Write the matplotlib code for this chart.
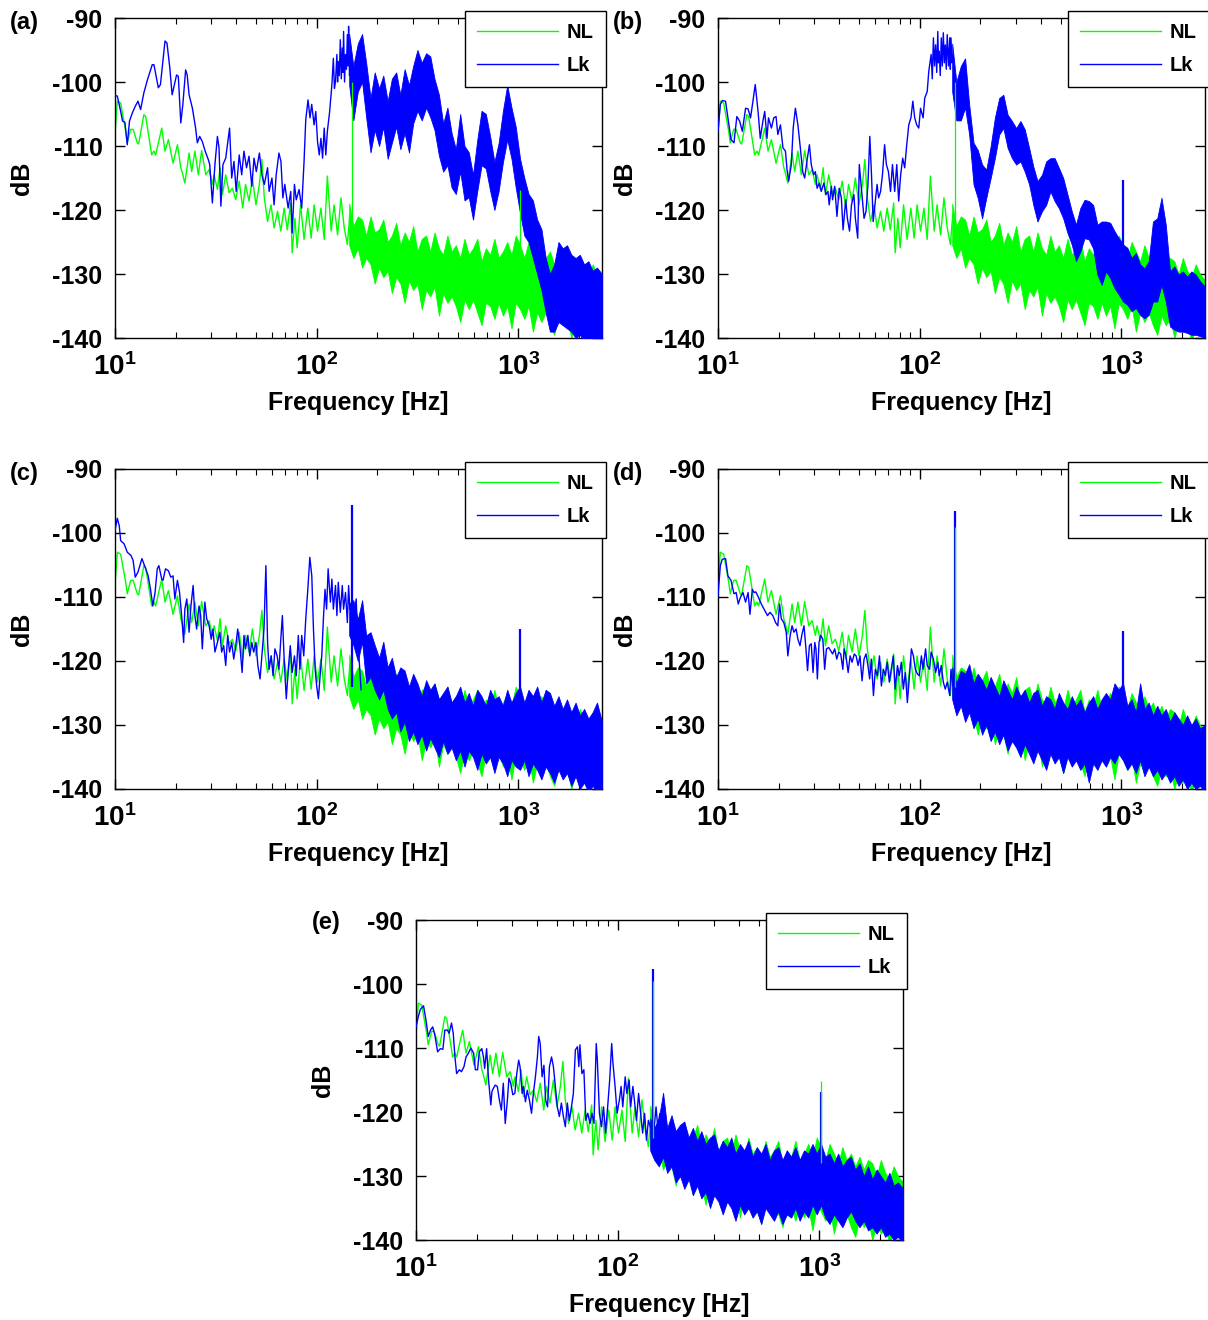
import numpy as np
import matplotlib
matplotlib.use("Agg")
import matplotlib.pyplot as plt
from matplotlib.ticker import NullFormatter, LogLocator

plt.rcParams["font.family"] = ["Liberation Sans", "DejaVu Sans"]
plt.rcParams["font.weight"] = "bold"
plt.rcParams["mathtext.fontset"] = "custom"
plt.rcParams["mathtext.rm"] = "Liberation Sans:bold"
plt.rcParams["mathtext.it"] = "Liberation Sans:bold"
plt.rcParams["mathtext.bf"] = "Liberation Sans:bold"
plt.rcParams["axes.unicode_minus"] = False

GREEN = "#00ff00"
BLUE = "#0000ff"

# ---- NL (no leak) spectrum, same baseline in every panel ----
nl_f = [10.0, 10.27, 10.67, 11.3, 11.5, 11.96, 12.3, 12.9, 13.1, 13.9, 14.2, 15.2, 15.6, 15.9,
        17.05, 17.7, 18.4, 19.4, 20.4, 21.2, 21.5, 22.2, 23.3, 24.0, 24.9, 25.9, 26.9, 28.2,
        29.3, 30.4, 31.0, 32.2, 33.2, 34.1, 35.4, 36.8, 38.2, 39.7, 41.3, 43.0, 44.4, 46.2,
        48.0, 50.0, 52.0, 53.5, 55.0, 57.1, 59.4, 61.5, 64.0, 66.4, 69.0, 71.5, 74.3, 75.6,
        78.0, 80.0, 83.2, 86.6, 90.4, 93.9, 97.1, 101, 105, 109, 113, 118, 122, 127, 132,
        137, 142, 146]
nl_db = [-108.0, -103.0, -103.3, -107.7, -109.5, -107.4, -107.4, -109.5, -109.7, -105.1, -105.4,
         -111.4, -110.8, -111.4, -107.2, -110.8, -109.0, -112.7, -109.8, -113.4, -114.0, -115.8,
         -111.1, -114.0, -110.8, -114.5, -110.7, -114.5, -113.7, -116.0, -114.5, -116.8, -113.4,
         -117.6, -114.5, -117.3, -116.6, -118.4, -115.5, -119.7, -116.0, -118.6, -115.0, -119.2,
         -116.0, -112.1, -118.1, -121.8, -119.2, -122.8, -120.2, -123.3, -119.7, -123.1, -118.9,
         -126.7, -121.3, -125.9, -119.2, -124.6, -119.7, -124.4, -119.2, -123.3, -119.7, -124.6,
         -114.7, -123.3, -119.2, -123.9, -118.1, -122.8, -125.4, -120.7]

# frequencies of the dense (noise band) part, shared by all traces
band_f = [145, 152, 160, 168, 176, 185, 194, 204, 214, 225,
          236, 248, 260, 273, 287, 301, 316, 332, 349, 366,
          384, 404, 424, 445, 467, 490, 515, 541, 568, 596,
          626, 657, 690, 725, 761, 799, 839, 881, 925, 971,
          1020, 1071, 1124, 1181, 1240, 1302, 1367, 1435, 1507, 1582,
          1661, 1744, 1832, 1923, 2019, 2120, 2226, 2338, 2455, 2600]

nl_hi = [-119.0, -122.5, -121.0, -121.5, -124.0, -121.0, -123.5, -123.0, -121.5, -125.0,
         -124.0, -122.0, -125.5, -123.5, -125.0, -122.5, -126.5, -124.5, -124.0, -126.5,
         -123.5, -126.0, -127.0, -124.0, -126.5, -125.5, -127.5, -124.5, -127.0, -126.0,
         -124.5, -128.0, -126.0, -127.0, -124.5, -127.5, -126.5, -125.0, -127.0, -124.0,
         -125.5, -127.5, -125.0, -126.5, -128.0, -125.5, -127.5, -126.5, -128.5, -127.0,
         -129.0, -127.5, -128.0, -130.0, -127.5, -129.5, -130.5, -128.5, -130.0, -131.0]
nl_lo = [-125.5, -127.5, -126.0, -129.0, -127.5, -128.5, -131.5, -129.0, -130.5, -129.5,
         -133.0, -130.5, -131.5, -134.5, -131.0, -132.5, -131.5, -135.5, -132.5, -133.5,
         -132.0, -136.5, -133.0, -134.5, -133.5, -135.0, -137.5, -134.0, -135.5, -134.0,
         -136.0, -138.0, -134.5, -135.0, -137.0, -134.5, -136.5, -135.0, -138.5, -134.5,
         -135.5, -137.0, -135.0, -139.0, -136.0, -137.5, -136.0, -138.0, -139.5, -136.5,
         -138.0, -137.0, -140.0, -137.5, -139.0, -138.0, -140.5, -138.5, -139.5, -140.0]

# ---- Lk (leak) spectra, one per panel ----
lk_a_f = [10.0, 10.27, 10.67, 10.9, 11.2, 11.5, 11.8, 12.2, 12.6, 13.0, 13.4, 13.9, 14.5, 15.3,
          15.6, 16.4, 16.8, 17.7, 18.1, 18.7, 19.2, 20.2, 20.6, 21.2, 21.7, 22.4, 22.8, 23.3,
          24.2, 25.1, 25.6, 26.3, 27.1, 28.0, 29.0, 29.5, 30.4, 31.3, 32.2, 32.8, 33.5, 34.3,
          35.4, 37.0, 37.9, 38.9, 39.9, 41.3, 42.5, 43.6, 44.9, 46.2, 47.7, 48.9, 50.2, 52.0,
          53.5, 55.0, 57.1, 58.1, 60.0, 61.5, 63.0, 65.0, 66.5, 68.0, 69.5, 72.2, 74.4, 75.6,
          77.6, 79.2, 81.8, 84.3, 86.6, 88.3, 90.6, 92.7, 94.5, 97.1, 99.0, 101, 103, 105,
          107, 109, 111, 113, 116, 119, 121, 122.5, 124, 126, 127, 128, 129.5, 131, 132.5,
          134, 135, 136, 137.5, 139, 140.5, 142, 143, 144, 145.5, 147]
lk_a_db = [-102.1, -102.2, -104.6, -106.1, -106.3, -109.8, -106.1, -104.8, -103.8, -103.0,
           -104.3, -101.7, -99.6, -97.3, -97.3, -100.9, -100.4, -93.6, -93.9, -97.8, -102.0,
           -98.9, -99.1, -106.4, -103.5, -98.1, -98.9, -102.0, -104.1, -107.2, -109.5, -108.5,
           -109.3, -110.8, -112.1, -112.9, -118.9, -112.9, -108.5, -110.3, -119.4, -112.9,
           -111.9, -107.2, -115.0, -112.4, -117.1, -111.4, -114.5, -110.8, -113.4, -111.6,
           -116.3, -111.9, -114.0, -111.1, -114.5, -116.0, -113.4, -117.1, -115.0, -119.2,
           -114.5, -111.1, -112.4, -118.1, -116.0, -119.7, -117.1, -123.6, -116.0, -118.4,
           -116.8, -119.7, -112.4, -105.9, -102.8, -105.6, -103.5, -106.7, -104.6, -109.3,
           -111.4, -108.8, -111.9, -107.2, -111.4, -107.7, -104.6, -100.4, -96.3, -101.0,
           -99.9, -95.7, -100.0, -96.8, -99.0, -93.4, -99.5, -94.7, -98.5, -92.1, -100.0,
           -95.7, -98.0, -92.6, -97.5, -91.3, -99.0, -96.8]
lk_a_hi = [-92.5, -97.5, -94.0, -92.5, -97.0, -102.5, -98.5, -101.0, -99.0, -103.0,
           -99.5, -98.5, -102.0, -98.0, -100.5, -97.5, -95.0, -97.0, -95.5, -96.0,
           -99.5, -102.0, -106.5, -104.0, -108.0, -110.5, -105.0, -110.0, -111.0, -114.5,
           -109.0, -104.5, -105.0, -108.5, -112.5, -109.5, -104.5, -100.5, -104.0, -107.0,
           -112.0, -115.0, -117.5, -118.5, -121.5, -123.0, -127.5, -130.0, -128.5, -125.0,
           -126.0, -125.5, -127.0, -127.5, -127.0, -128.5, -128.0, -129.5, -129.0, -130.0]
lk_a_lo = [-100.5, -106.0, -101.5, -100.0, -105.5, -111.0, -107.5, -110.0, -107.0, -112.0,
           -109.5, -107.0, -110.5, -108.0, -111.0, -106.5, -104.5, -106.0, -104.0, -105.5,
           -107.5, -111.5, -114.0, -113.0, -116.5, -117.5, -114.0, -118.5, -118.0, -121.5,
           -117.0, -113.0, -113.5, -117.0, -120.0, -117.0, -112.5, -109.0, -112.0, -116.5,
           -120.5, -124.0, -125.0, -127.5, -130.0, -132.5, -136.0, -139.0, -139.0, -137.5,
           -138.0, -138.5, -139.0, -140.0, -139.5, -140.5, -140.5, -141.0, -141.0, -141.0]

lk_b_f = [10.0, 10.27, 10.5, 10.9, 11.2, 11.6, 12.0, 12.4, 12.8, 13.2, 13.7, 14.1, 14.5, 14.9,
          15.3, 15.8, 16.2, 16.7, 17.05, 17.5, 17.8, 18.4, 18.9, 19.4, 19.8, 20.4, 21.0, 21.6,
          22.0, 22.4, 23.1, 23.6, 24.2, 24.9, 25.6, 26.3, 26.9, 27.6, 28.4, 29.0, 29.8, 30.4,
          31.0, 31.8, 32.5, 33.5, 34.3, 35.1, 35.6, 36.5, 37.0, 37.9, 38.9, 39.9, 40.9, 41.7,
          43.0, 43.8, 44.9, 45.9, 47.2, 48.0, 49.3, 50.2, 51.4, 53.0, 54.2, 55.4, 56.6, 57.7,
          58.8, 60.0, 61.5, 62.6, 64.0, 65.4, 67.0, 68.4, 70.0, 71.7, 73.3, 75.2, 77.0, 78.7,
          80.5, 82.4, 84.3, 86.3, 88.3, 90.5, 92.5, 94.5, 96.7, 99.0, 101, 104, 106, 109,
          111, 114, 115.5, 117, 118.5, 120, 121.5, 123, 124, 125, 126.5, 128, 129.5, 131,
          132.5, 134, 135.5, 137, 139, 141, 142, 143, 144.5, 146]
lk_b_db = [-107.7, -103.5, -102.9, -103.0, -105.6, -109.0, -109.5, -105.4, -106.1, -107.7,
           -104.1, -104.2, -105.6, -103.0, -100.4, -104.6, -108.8, -106.1, -104.6, -108.8,
           -105.6, -107.2, -105.6, -105.4, -108.2, -106.7, -110.3, -110.8, -113.7, -115.5,
           -112.9, -107.2, -104.1, -106.7, -110.3, -114.0, -115.0, -112.4, -109.8, -112.9,
           -114.5, -114.0, -116.6, -115.8, -117.1, -115.8, -117.6, -117.1, -119.2, -116.3,
           -118.4, -116.3, -121.0, -116.6, -118.1, -123.1, -118.4, -121.3, -123.3, -119.2,
           -117.6, -121.3, -124.4, -112.9, -116.6, -121.3, -120.2, -116.0, -108.5, -114.5,
           -121.8, -119.2, -116.0, -118.1, -117.1, -114.5, -109.8, -112.9, -114.0, -117.1,
           -112.9, -117.1, -112.9, -118.6, -114.5, -111.9, -113.4, -109.8, -106.7, -105.6,
           -103.0, -105.6, -106.7, -107.2, -104.1, -105.6, -102.5, -101.5, -98.3, -95.7,
           -99.5, -93.1, -97.5, -94.2, -98.5, -92.1, -97.0, -95.2, -99.0, -93.1, -97.5,
           -92.3, -97.0, -94.2, -98.0, -92.6, -97.5, -93.1, -98.0, -93.1, -97.0, -95.7]
lk_b_hi = [-94.0, -100.0, -97.5, -96.3, -103.5, -109.5, -110.6, -112.9, -113.7, -110.0,
           -105.6, -102.5, -102.0, -105.1, -106.1, -107.2, -106.1, -107.4, -110.3, -113.2,
           -115.5, -114.5, -112.4, -111.9, -111.9, -113.4, -115.0, -117.6, -120.2, -122.3,
           -119.7, -118.4, -118.6, -119.2, -122.3, -121.8, -121.8, -122.0, -123.3, -124.4,
           -125.4, -125.9, -127.5, -126.7, -128.5, -129.1, -128.0, -121.8, -121.3, -118.1,
           -122.3, -129.6, -128.8, -130.1, -129.6, -130.4, -129.6, -130.1, -131.1, -132.0]
lk_b_lo = [-101.5, -106.0, -106.0, -104.0, -108.2, -116.0, -118.1, -121.3, -118.1, -115.0,
           -111.9, -108.2, -107.2, -110.3, -111.9, -112.9, -112.4, -114.0, -116.0, -119.2,
           -121.8, -120.2, -119.2, -117.1, -118.6, -119.7, -121.3, -123.6, -125.4, -128.0,
           -126.5, -124.4, -124.6, -126.0, -130.1, -131.7, -129.6, -130.6, -132.2, -133.2,
           -134.3, -134.8, -135.8, -135.3, -136.4, -136.9, -136.4, -134.3, -134.3, -131.7,
           -134.3, -138.2, -138.7, -139.0, -139.0, -139.2, -139.5, -139.5, -139.7, -140.0]

lk_c_f = [10.0, 10.27, 10.5, 10.67, 11.1, 11.5, 12.0, 12.3, 12.6, 13.0, 13.6, 13.9, 14.2, 14.6,
          15.0, 15.4, 15.8, 16.2, 16.5, 17.05, 17.3, 17.8, 18.4, 18.9, 19.4, 19.8, 20.4, 20.9,
          21.4, 21.9, 22.2, 22.7, 23.3, 23.8, 24.4, 24.9, 25.4, 26.1, 26.6, 27.1, 27.9, 28.5,
          29.3, 30.0, 30.6, 31.3, 32.2, 33.1, 33.8, 34.6, 35.4, 36.2, 37.0, 37.9, 38.8, 39.7,
          40.6, 41.6, 42.7, 43.6, 44.4, 45.6, 46.6, 47.7, 48.7, 50.0, 51.1, 52.4, 53.5, 54.8,
          56.0, 57.1, 58.1, 59.5, 60.8, 62.1, 63.7, 65.0, 66.4, 67.6, 69.1, 70.7, 72.3, 74.0,
          75.6, 77.6, 79.2, 81.1, 82.6, 84.3, 86.3, 88.3, 90.4, 92.5, 94.6, 96.4, 98.3, 100,
          102, 104, 106, 108, 110, 112, 114, 117, 119, 121, 124, 126, 128, 131, 134, 136,
          139, 142, 144, 146, 151, 153, 157, 159, 162, 166]
lk_c_db = [-99.6, -97.7, -98.9, -101.2, -101.7, -103.0, -103.5, -104.3, -106.9, -106.1, -104.0,
           -104.8, -105.6, -106.7, -108.8, -111.4, -109.3, -105.6, -105.1, -107.2, -107.4,
           -105.6, -105.9, -106.9, -106.7, -110.3, -107.4, -109.3, -112.9, -117.1, -111.9,
           -110.3, -115.5, -111.4, -108.2, -112.9, -115.0, -111.4, -112.9, -118.1, -110.8,
           -113.4, -114.5, -116.6, -115.0, -118.6, -117.1, -115.5, -118.6, -117.6, -120.7,
           -116.0, -118.6, -117.1, -119.7, -117.6, -115.0, -117.6, -121.8, -116.0, -118.1,
           -116.0, -119.2, -117.1, -118.6, -117.1, -120.7, -122.8, -119.2, -115.0, -105.1,
           -117.1, -121.3, -119.2, -122.3, -118.1, -119.2, -121.3, -116.6, -112.9, -120.2,
           -125.9, -121.3, -117.6, -121.8, -119.2, -122.3, -116.0, -121.3, -116.0, -119.2,
           -113.4, -108.8, -103.8, -106.7, -115.0, -121.3, -123.9, -125.9, -122.3, -119.2,
           -113.4, -108.8, -111.9, -105.6, -110.8, -107.2, -111.9, -108.2, -112.9, -107.7,
           -112.4, -108.2, -111.9, -109.3, -114.0, -108.2, -111.9, -110.8, -114.0, -110.3,
           -114.5, -119.2, -124.5]
lk_c_hi = [-111.0, -110.5, -113.5, -110.5, -116.0, -115.5, -117.5, -119.5, -117.0, -121.0,
           -119.5, -122.5, -121.0, -121.5, -124.0, -122.0, -123.5, -125.5, -123.0, -124.5,
           -123.5, -126.0, -125.0, -124.0, -126.5, -125.5, -124.0, -126.5, -125.0, -127.0,
           -124.5, -125.5, -127.0, -124.5, -126.0, -125.5, -127.0, -124.5, -126.5, -125.0,
           -124.0, -126.5, -124.5, -125.5, -124.0, -126.5, -124.5, -125.0, -127.0, -125.5,
           -127.5, -126.0, -128.0, -126.5, -128.5, -127.5, -129.0, -128.0, -126.5, -129.5]
lk_c_lo = [-116.0, -117.5, -120.0, -117.0, -123.5, -122.5, -124.5, -126.0, -124.5, -127.5,
           -129.0, -128.0, -131.0, -129.5, -132.5, -131.0, -133.0, -131.5, -134.0, -132.0,
           -133.5, -135.0, -132.5, -134.5, -133.5, -135.5, -134.0, -136.5, -134.0, -135.0,
           -137.0, -134.5, -136.0, -135.0, -137.5, -135.0, -136.0, -138.0, -135.5, -136.5,
           -137.0, -135.5, -138.0, -136.0, -137.0, -138.5, -136.5, -137.5, -139.0, -137.0,
           -138.5, -137.5, -139.5, -138.0, -140.0, -139.0, -140.5, -139.5, -140.5, -140.5]

lk_d_f = [10.0, 10.27, 10.5, 10.9, 11.2, 11.6, 12.0, 12.3, 12.6, 12.9, 13.3, 13.7, 14.1, 14.4,
          14.8, 15.1, 15.4, 15.9, 16.4, 17.05, 17.6, 18.1, 18.7, 19.3, 19.8, 20.2, 20.6, 21.2,
          21.8, 22.2, 22.8, 23.3, 23.8, 24.4, 24.9, 25.5, 26.1, 26.7, 27.3, 27.8, 28.4, 29.0,
          29.6, 30.2, 30.6, 31.1, 31.7, 32.3, 33.1, 33.8, 34.5, 35.4, 36.2, 37.0, 37.9, 38.8,
          39.7, 40.6, 41.6, 42.2, 43.1, 44.2, 45.2, 46.2, 47.4, 48.4, 49.5, 50.6, 51.8, 53.0,
          54.2, 55.4, 56.5, 57.6, 59.0, 60.3, 61.7, 63.2, 64.6, 66.1, 67.6, 69.1, 70.7, 72.3,
          74.0, 75.6, 77.6, 79.2, 81.1, 83.0, 84.9, 86.9, 89.0, 91.0, 93.1, 95.2, 97.4, 99.6,
          102, 104, 107, 109, 112, 114, 117, 120, 123, 125, 128, 131, 134, 137, 141, 143,
          146, 151, 155, 158, 162, 166]
lk_d_db = [-109.8, -105.1, -104.1, -104.0, -106.7, -107.4, -109.5, -109.3, -111.1, -110.1, -109.3,
           -110.8, -109.3, -112.7, -108.8, -109.3, -109.2, -110.1, -111.1, -112.1, -112.9,
           -112.4, -112.9, -114.0, -114.5, -111.1, -113.4, -114.0, -115.5, -119.2, -116.0,
           -114.5, -115.5, -115.0, -116.6, -117.6, -115.8, -114.5, -118.1, -121.5, -117.6,
           -117.3, -121.8, -117.1, -118.1, -122.8, -117.1, -116.0, -116.6, -121.3, -118.1,
           -117.9, -118.4, -118.9, -118.1, -119.7, -118.6, -118.9, -121.3, -118.1, -119.2,
           -121.8, -119.2, -120.2, -118.9, -119.2, -120.7, -119.2, -123.1, -119.7, -118.9,
           -120.7, -122.8, -119.7, -125.4, -121.3, -122.3, -119.2, -123.9, -121.3, -122.3,
           -120.2, -123.3, -121.3, -119.2, -124.4, -120.7, -122.3, -120.2, -124.4, -121.8,
           -126.5, -122.3, -118.1, -119.2, -121.3, -122.0, -122.3, -119.2, -121.3, -118.1,
           -120.7, -121.3, -118.6, -119.7, -121.8, -120.2, -122.3, -120.7, -123.3, -124.4,
           -123.3, -125.4, -121.3, -123.9, -123.9, -126.5, -122.3, -126.5, -123.3]
lk_d_hi = [-121.0, -123.5, -121.5, -122.0, -120.5, -123.5, -122.0, -123.0, -124.5, -122.5,
           -124.0, -125.5, -123.0, -124.5, -126.0, -124.0, -125.5, -124.5, -126.5, -125.0,
           -124.5, -127.0, -125.5, -126.0, -127.5, -125.0, -126.5, -127.5, -125.5, -127.0,
           -126.0, -128.0, -126.5, -125.5, -127.5, -126.0, -125.0, -126.0, -123.5, -124.5,
           -123.5, -127.0, -126.0, -128.0, -123.5, -127.5, -126.5, -128.5, -127.0, -128.5,
           -127.5, -129.5, -128.0, -129.0, -130.0, -128.5, -130.0, -129.0, -130.5, -130.0]
lk_d_lo = [-126.0, -128.5, -127.0, -129.5, -128.0, -130.5, -129.0, -131.5, -130.0, -132.5,
           -131.0, -133.0, -131.5, -134.0, -132.5, -133.5, -135.0, -133.0, -134.5, -136.0,
           -134.0, -135.5, -137.0, -134.5, -136.0, -135.0, -137.5, -135.0, -136.5, -135.5,
           -137.0, -136.0, -139.0, -136.0, -137.0, -135.5, -136.5, -135.0, -136.0, -134.5,
           -135.5, -137.0, -136.0, -137.5, -135.5, -138.0, -136.5, -138.0, -137.0, -138.5,
           -137.5, -139.0, -138.0, -139.5, -138.5, -140.0, -139.0, -140.0, -139.5, -140.5]

lk_e_f = [10.0, 10.27, 10.5, 10.9, 11.2, 11.5, 11.8, 12.1, 12.4, 12.8, 13.2, 13.6, 13.9, 14.3,
          14.6, 15.0, 15.3, 15.6, 15.9, 16.4, 16.8, 17.3, 17.7, 18.2, 18.7, 19.3, 19.7, 20.2,
          20.6, 21.2, 21.6, 21.9, 22.4, 22.9, 23.5, 23.8, 24.2, 24.7, 25.3, 25.9, 26.5, 27.1,
          27.7, 28.4, 28.9, 29.5, 30.2, 30.9, 31.6, 32.3, 32.8, 33.6, 34.1, 34.9, 35.6, 36.5,
          37.4, 38.2, 39.1, 40.0, 40.6, 41.3, 42.2, 43.1, 43.9, 44.9, 45.9, 47.0, 48.0, 49.1,
          50.2, 51.4, 52.6, 53.8, 55.0, 56.3, 57.6, 59.0, 60.3, 61.7, 63.2, 64.2, 65.0, 66.5,
          68.0, 69.5, 71.1, 72.9, 74.6, 76.3, 78.3, 79.3, 81.2, 83.1, 85.1, 87.1, 89.2, 91.3,
          93.4, 94.8, 97.1, 99.4, 102, 104, 106, 109, 111, 114, 116, 119, 121, 124, 127, 130,
          133, 136, 139, 142, 145, 151, 155, 158, 162, 166]
lk_e_db = [-106.7, -105.1, -104.0, -103.4, -105.6, -108.2, -107.2, -106.7, -108.0, -110.6, -110.1,
           -110.2, -107.2, -107.2, -107.7, -106.1, -107.7, -111.4, -114.0, -113.4, -113.7,
           -112.9, -111.4, -110.8, -110.0, -110.8, -113.4, -113.4, -110.6, -110.1, -111.4,
           -113.2, -110.1, -115.0, -118.9, -116.8, -116.3, -115.8, -116.0, -118.1, -119.7,
           -115.5, -121.8, -118.1, -114.7, -115.5, -117.3, -117.1, -114.0, -111.9, -112.9,
           -117.1, -116.0, -118.4, -116.6, -118.1, -120.2, -117.1, -114.5, -111.4, -108.2,
           -109.3, -114.5, -112.7, -118.1, -119.2, -112.9, -111.4, -112.9, -116.0, -119.2,
           -120.7, -118.6, -120.7, -122.3, -118.6, -121.3, -119.2, -117.1, -110.3, -109.8,
           -112.9, -109.5, -114.0, -113.4, -121.3, -120.2, -121.8, -120.2, -121.8, -109.3,
           -111.9, -120.2, -122.3, -119.2, -123.3, -119.2, -115.0, -109.3, -112.4, -116.0,
           -120.2, -118.1, -116.0, -119.2, -114.5, -117.1, -115.0, -119.2, -116.0, -118.1,
           -121.3, -117.1, -120.2, -123.3, -120.2, -124.4, -121.3, -122.3, -123.3, -119.2,
           -122.3, -120.2, -123.9]
lk_e_hi = [-121.0, -122.5, -121.0, -117.0, -122.5, -120.5, -123.0, -122.0, -121.5, -124.0,
           -122.5, -124.5, -123.0, -125.0, -124.0, -123.5, -126.0, -124.5, -125.5, -124.0,
           -126.5, -125.0, -126.0, -124.5, -127.0, -125.5, -126.5, -125.0, -127.5, -126.0,
           -125.5, -127.5, -126.0, -127.0, -125.5, -127.5, -126.0, -126.5, -125.0, -126.5,
           -125.0, -127.0, -126.5, -128.0, -126.5, -128.5, -127.5, -127.0, -129.0, -128.0,
           -130.0, -128.5, -130.5, -129.0, -130.0, -131.0, -129.5, -131.5, -131.0, -132.0]
lk_e_lo = [-126.0, -127.5, -128.5, -127.0, -129.5, -128.5, -131.0, -130.0, -132.0, -130.5,
           -133.0, -131.5, -133.5, -132.5, -135.0, -133.0, -134.0, -136.0, -134.0, -135.0,
           -137.0, -134.5, -136.0, -135.0, -136.5, -135.5, -137.5, -135.0, -136.0, -137.0,
           -135.5, -137.5, -136.0, -136.5, -135.0, -137.0, -135.5, -136.5, -134.5, -136.0,
           -134.5, -136.5, -137.5, -136.0, -137.0, -138.0, -136.5, -135.5, -137.0, -138.0,
           -137.0, -138.5, -138.0, -139.0, -138.0, -139.5, -139.0, -140.0, -139.5, -140.5]

# narrow tones: 149 Hz and ~1020 Hz (peak dB per panel a..e, nan = none)
tone_f = [149, 1020]
nl_tone_top = [[-100.0, -116.8], [-100.0, np.nan], [np.nan, np.nan], [-99.0, np.nan], [-99.5, -115.2]]
lk_tone_top = [[np.nan, np.nan], [np.nan, -115.3], [-95.7, -115.0], [-96.5, -115.3], [-97.6, -116.8]]
tone_base = [-124, -128]

labels = ["(a)", "(b)", "(c)", "(d)", "(e)"]
lk_lines = [(lk_a_f, lk_a_db), (lk_b_f, lk_b_db), (lk_c_f, lk_c_db), (lk_d_f, lk_d_db), (lk_e_f, lk_e_db)]
lk_bands = [(lk_a_hi, lk_a_lo), (lk_b_hi, lk_b_lo), (lk_c_hi, lk_c_lo), (lk_d_hi, lk_d_lo), (lk_e_hi, lk_e_lo)]

W, H = 1208, 1320
# axes boxes in pixels: left, top
boxes = [(115, 18), (718, 18), (115, 469), (718, 469), (416, 920)]
label_pos = [(10, 22), (613, 22), (10, 473), (613, 473), (312, 923)]
AW, AH = 487, 320

fig = plt.figure(figsize=(W / 100, H / 100), dpi=100)

for i in range(5):
    l, t = boxes[i]
    ax = fig.add_axes([l / W, 1 - (t + AH) / H, AW / W, AH / H])
    ax.set_xscale("log")

    nl_line, = ax.plot(nl_f, nl_db, color=GREEN, lw=1.0, zorder=2)
    ax.fill_between(band_f, nl_lo, nl_hi, color=GREEN, lw=0.6, zorder=2)

    f, db = lk_lines[i]
    lk_line, = ax.plot(f, db, color=BLUE, lw=1.0, zorder=3)
    hi, lo = lk_bands[i]
    ax.fill_between(band_f, lo, hi, color=BLUE, lw=0.6, zorder=3)

    for k in range(2):
        if not np.isnan(lk_tone_top[i][k]):
            ax.vlines(tone_f[k], tone_base[k], lk_tone_top[i][k], color=BLUE, lw=1.6, zorder=4)
        if not np.isnan(nl_tone_top[i][k]):
            ax.vlines(tone_f[k], tone_base[k], nl_tone_top[i][k], color=GREEN, lw=0.9, zorder=5)

    ax.set_xlim(10, 2600)
    ax.set_ylim(-140, -90)
    ax.set_yticks([-140, -130, -120, -110, -100, -90])
    ax.set_xticks([10, 100, 1000])
    ax.set_xticklabels([r"$10^{1}$", r"$10^{2}$", r"$10^{3}$"])
    ax.xaxis.set_minor_locator(LogLocator(base=10, subs=np.arange(2, 10)))
    ax.xaxis.set_minor_formatter(NullFormatter())
    ax.tick_params(which="both", direction="in", top=True, right=True)
    ax.tick_params(which="major", length=7, width=1, labelsize=18)
    ax.tick_params(axis="x", which="major", labelsize=20, pad=11)
    ax.tick_params(axis="y", which="major", pad=9)
    ax.tick_params(which="minor", length=4, width=0.8)
    for s in ax.spines.values():
        s.set_linewidth(1.0)

    ax.set_xlabel("Frequency [Hz]", fontsize=18, fontweight="bold")
    ax.xaxis.set_label_coords(0.5, -0.165)
    ax.set_ylabel("dB", fontsize=18, fontweight="bold")
    ax.yaxis.set_label_coords(-0.167, 0.5)

    leg = ax.legend([nl_line, lk_line], ["NL", "Lk"], loc="upper right",
                    bbox_to_anchor=(1.008, 1.022), borderaxespad=0, fancybox=False,
                    framealpha=1, edgecolor="black", handlelength=4.0, handletextpad=0.45,
                    borderpad=0.6, labelspacing=0.7, prop={"size": 14.5, "weight": "bold"})
    leg.get_frame().set_linewidth(1.0)
    leg.set_zorder(10)

    lx, ly = label_pos[i]
    fig.text(lx / W, 1 - ly / H, labels[i], fontsize=17, fontweight="bold", ha="left", va="center")

fig.savefig("out.png", dpi=100)
